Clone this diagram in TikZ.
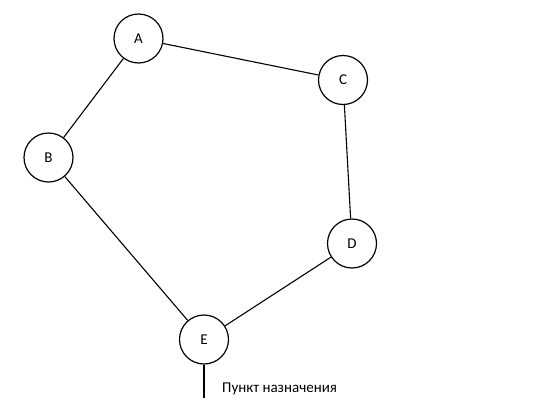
\documentclass[tikz,border=0pt]{standalone}
\usepackage{fontspec}
\setmainfont{Carlito}
\begin{document}
\begin{tikzpicture}[x=1pt,y=-1pt,
  vtx/.style={circle,draw=black,line width=1.2pt,minimum size=49pt,inner sep=0pt,font=\fontsize{15}{17}\selectfont},
  edge/.style={draw=black,line width=1.1pt}]
\useasboundingbox[fill=white] (0,0) rectangle (540,407);
\node[vtx] (A) at (138.5,38.5) {A};
\node[vtx] (C) at (343,80) {C};
\node[vtx] (B) at (48.5,157.5) {B};
\node[vtx] (D) at (352,243.5) {D};
\node[vtx] (E) at (204,339.5) {E};
\coordinate (F) at (204,398);
\draw[edge] (A) -- (C);
\draw[edge] (A) -- (B);
\draw[edge] (B) -- (E);
\draw[edge] (C) -- (D);
\draw[edge] (D) -- (E);
\draw[edge] (E) -- (F);
\node[anchor=base west,inner sep=0pt,font=\fontsize{15}{17}\selectfont] (L) at (222,392) {Пункт назначения};
\end{tikzpicture}
\end{document}
